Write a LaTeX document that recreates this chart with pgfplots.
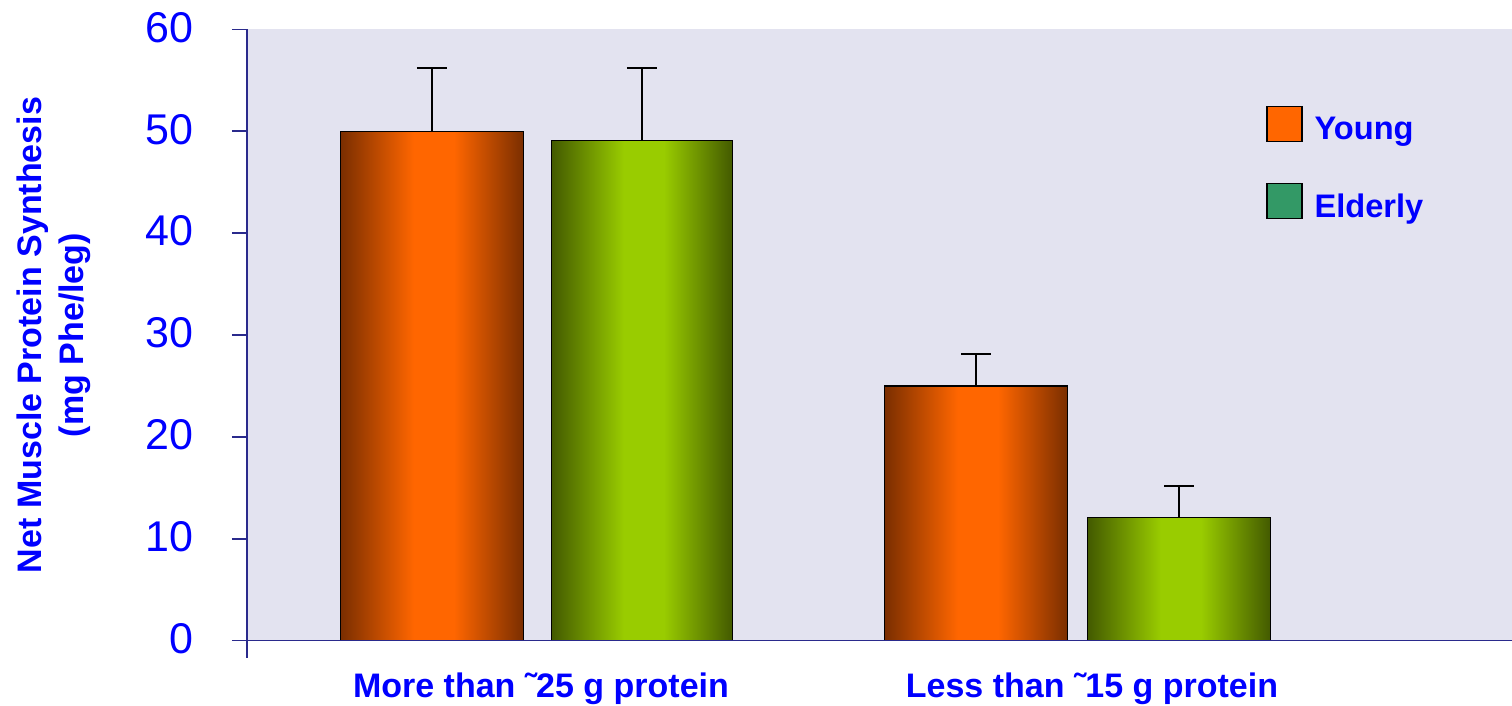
\documentclass[border=0pt]{standalone}
\usepackage{fontspec}
\setmainfont{Liberation Sans}
\usepackage{pgfplots}
\pgfplotsset{compat=1.18}
\definecolor{bglav}{HTML}{E3E3F0}
\definecolor{odark}{HTML}{7A2E00}
\definecolor{obright}{HTML}{FF6600}
\definecolor{gdark}{HTML}{435A00}
\definecolor{gbright}{HTML}{99CC00}
\definecolor{legorange}{HTML}{FF6600}
\definecolor{leggreen}{HTML}{339966}
\definecolor{axnavy}{HTML}{2A2A8C}
\definecolor{txtblue}{HTML}{0000FF}
\pgfdeclarehorizontalshading{orangebar}{100bp}{color(0bp)=(odark); color(25bp)=(odark); color(45bp)=(obright); color(56bp)=(obright); color(75bp)=(odark); color(100bp)=(odark)}
\pgfdeclarehorizontalshading{greenbar}{100bp}{color(0bp)=(gdark); color(25bp)=(gdark); color(45bp)=(gbright); color(56bp)=(gbright); color(75bp)=(gdark); color(100bp)=(gdark)}
\begin{document}
\begin{tikzpicture}
\begin{axis}[
  scale only axis, width=632.5pt, height=305.7pt,
  xmin=0, xmax=12.65, ymin=0, ymax=60,
  axis on top,
  axis x line=bottom, axis y line=left,
  axis line style={-, axnavy, line width=0.75pt},
  axis background/.style={fill=bglav},
  ytick={0,10,...,60},
  tick align=outside, major tick length=7.5pt,
  ytick style={axnavy, line width=0.75pt},
  xtick={2.94,8.45},
  xticklabels={More than ˜25 g protein, Less than ˜15 g protein},
  xtick style={draw=none},
  /pgf/number format/assume math mode=true,
  yticklabel style={font=\fontsize{21.5}{24}\selectfont, text=txtblue, xshift=-16pt, yshift=1pt},
  xticklabel style={font=\fontsize{17}{20}\selectfont\bfseries, text=txtblue, yshift=-5pt},
  ylabel={Net Muscle Protein Synthesis\\(mg Phe/leg)},
  ylabel style={align=center, font=\fontsize{17}{21}\selectfont\bfseries, text=txtblue, inner sep=0pt},
  ylabel shift=23.5pt,
  legend cell align=left,
  legend style={at={(axis cs:10.19,52.5)}, anchor=north west, draw=none, fill=none,
    inner sep=0pt, row sep=20pt, font=\fontsize{16.3}{19}\selectfont\bfseries, text=txtblue,
    nodes={inner sep=0pt, yshift=-1.5pt},
    /tikz/every odd column/.append style={column sep=6pt}},
  clip=false,
]
\addlegendimage{legend image code/.code={\draw[draw=black, line width=0.6pt, fill=legorange] (0pt,-7.25pt) rectangle (17.5pt,10.25pt);}}
\addlegendentry{Young}
\addlegendimage{legend image code/.code={\draw[draw=black, line width=0.6pt, fill=leggreen] (0pt,-7.25pt) rectangle (17.5pt,10.25pt);}}
\addlegendentry{Elderly}

\addplot[forget plot, ybar, bar shift=0pt, bar width=1.83, draw=black, line width=0.6pt, shade, shading=orangebar] coordinates {(1.85,50.0)};
\addplot[forget plot, ybar, bar shift=0pt, bar width=1.81, draw=black, line width=0.6pt, shade, shading=greenbar] coordinates {(3.95,49.1)};
\addplot[forget plot, ybar, bar shift=0pt, bar width=1.83, draw=black, line width=0.6pt, shade, shading=orangebar] coordinates {(7.29,25.0)};
\addplot[forget plot, ybar, bar shift=0pt, bar width=1.83, draw=black, line width=0.6pt, shade, shading=greenbar] coordinates {(9.32,12.1)};

\addplot[forget plot, draw=none, mark=none,
  error bars/.cd, y dir=plus, y explicit,
  error bar style={black, line width=1pt},
  error mark options={rotate=90, mark size=7.5pt, line width=1pt, black}]
  coordinates {
    (1.85,50.0) +- (0,6.2)
    (3.95,49.1) +- (0,7.1)
    (7.29,25.0) +- (0,3.1)
    (9.32,12.1) +- (0,3.05)
  };
\draw[axnavy, line width=0.75pt] (axis cs:0,0) -- ++(0,-8.75pt);
\end{axis}
\pgfresetboundingbox
\path ([shift={(-123.5pt,-32.65pt)}]current axis.south west) rectangle ([shift={(0pt,14.65pt)}]current axis.north east);
\end{tikzpicture}
\end{document}
